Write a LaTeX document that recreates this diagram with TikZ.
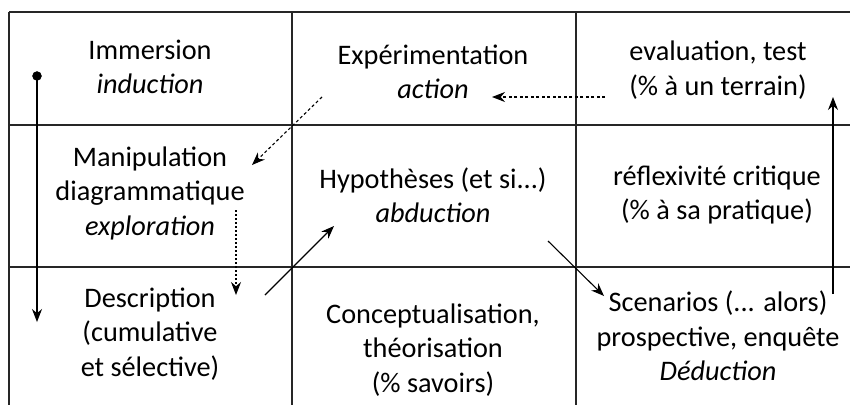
\documentclass[tikz,border=0pt]{standalone}
\usepackage{fontspec}
\setmainfont{Carlito}
\usepackage{tikz}
\usetikzlibrary{arrows.meta,calc}

\tikzset{
  cell/.style={align=center,font=\fontsize{28.3}{34.5}\selectfont,inner sep=0pt},
  grid/.style={line width=1.4pt,black!85},
  flow/.style={line width=1.1pt,-{Stealth[length=13pt,width=10pt]}},
  dflow/.style={flow,dash pattern=on 3pt off 2.5pt},
  pflow/.style={flow,dash pattern=on 2pt off 2pt}
}

\begin{document}
\begin{tikzpicture}[x=1pt,y=-1pt]
    \useasboundingbox (0,0) rectangle (850,405);
    \pgfmathsetmacro{\xa}{9};
    \pgfmathsetmacro{\xb}{292};
    \pgfmathsetmacro{\xc}{576};
    \pgfmathsetmacro{\ya}{12};
    \pgfmathsetmacro{\yb}{125};
    \pgfmathsetmacro{\yc}{267};

    % grid
    \foreach \y in {\ya,\yb,\yc} \draw[grid] (\xa,\y) -- (850,\y);
    \foreach \x in {\xa,\xb,\xc} \draw[grid] (\x,\ya) -- (\x,405);

    % cells
    \node[cell] (immersion) at (150,67) {Immersion\\\textit{induction}};
    \node[cell] (experim) at (433,72) {Expérimentation\\\textit{action}};
    \node[cell] (evaluation) at (718,70) {evaluation, test\\(\% à un terrain)};
    \node[cell] (manip) at (150,193) {Manipulation\\diagrammatique\\\textit{exploration}};
    \node[cell] (hypo) at (433,195) {Hypothèses (et si...)\\\textit{abduction}};
    \node[cell] (reflex) at (717,195) {réflexivité critique\\(\% à sa pratique)};
    \node[cell] (descr) at (150,334) {Description\\(cumulative\\et sélective)};
    \node[cell] (concept) at (433,350) {Conceptualisation,\\théorisation\\(\% savoirs)};
    \node[cell] (scen) at (718,336) {Scenarios (... alors)\\prospective, enquête\\\textit{Déduction}};

    % arrow ends
    \coordinate (startL) at (37,76);
    \coordinate (endL) at (37,322);
    \coordinate (evalS) at (605,97);
    \coordinate (actE) at (492,97);
    \coordinate (actS) at (322,97);
    \coordinate (manE) at (252,165);
    \coordinate (manS) at (236,210);
    \coordinate (desE) at (236,295);
    \coordinate (desS) at (265,295);
    \coordinate (hypE) at (334,226);
    \coordinate (hypS) at (548,241);
    \coordinate (scnE) at (604,296);
    \coordinate (scnS) at (833,294);
    \coordinate (evlE) at (833,97);

    \filldraw (startL) circle[radius=4.5];
    \draw[flow] (startL) -- (endL);
    \draw[dflow] (evalS) -- (actE);
    \draw[dflow] (actS) -- (manE);
    \draw[pflow] (manS) -- (desE);
    \draw[flow] (desS) -- (hypE);
    \draw[flow] (hypS) -- (scnE);
    \draw[flow] (scnS) -- (evlE);
\end{tikzpicture}
\end{document}
